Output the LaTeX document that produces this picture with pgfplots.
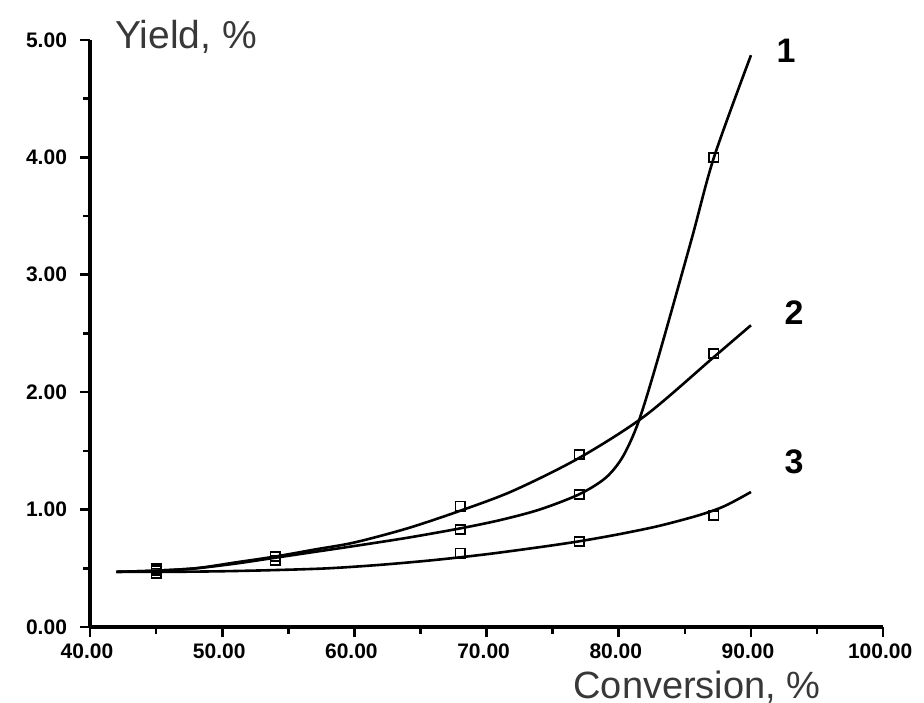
\documentclass[border=0pt]{standalone}
\usepackage{pgfplots}
\pgfplotsset{compat=1.18}
\usepackage{fontspec}
\setmainfont{Liberation Sans}
\begin{document}
\begin{tikzpicture}
\begin{axis}[
  scale only axis, width=396.5pt, height=293.5pt,
  xmin=40, xmax=100, ymin=0, ymax=5,
  axis lines*=left,
  axis line style={line width=1.8pt},
  xtick={40,50,60,70,80,90,100},
  xticklabels={40.00,50.00,60.00,70.00,80.00,90.00,100.00},
  ytick={0,1,2,3,4,5},
  yticklabels={0.00,1.00,2.00,3.00,4.00,5.00},
  minor x tick num=1, minor y tick num=1,
  tick align=outside,
  major tick length=5pt, minor tick length=3.5pt,
  every tick/.style={black, line width=1.3pt},
  ticklabel style={font=\bfseries\fontsize{10.5}{12}\selectfont},
  yticklabel style={xshift=-3pt},
  xticklabel style={xshift=-1.5pt},
  clip=false,
]
\addplot[black, line width=1.3pt, smooth, tension=0.5] coordinates {
 (42,0.47) (45,0.48) (48,0.5) (51,0.54) (54,0.59) (57,0.64) (60,0.69) (64,0.76)
 (68,0.84) (71,0.91) (74,1.0) (77,1.13) (79,1.27) (80.3,1.45)
 (81.5,1.75) (83,2.3) (85.5,3.3) (87.2,4.0) (90,4.87)};
\addplot[black, line width=1.3pt, smooth, tension=0.5] coordinates {
 (42,0.47) (45,0.48) (48,0.5) (51,0.55) (54,0.6) (57,0.66) (60,0.72) (64,0.84)
 (68,0.99) (72,1.16) (77,1.44) (82,1.8) (87.2,2.3) (90,2.57)};
\addplot[black, line width=1.3pt, smooth, tension=0.5] coordinates {
 (42,0.47) (46,0.47) (50,0.475) (54,0.485) (58,0.5) (62,0.53) (66,0.57) (70,0.62)
 (74,0.68) (77,0.73) (80,0.79) (83,0.86) (86,0.95) (88,1.03) (90,1.15)};
\addplot[only marks, mark=square, mark size=2.3pt, mark options={black, line width=0.9pt}] coordinates {
 (45,0.48) (54,0.6) (68,0.83) (77,1.13) (87.2,4.0)};
\addplot[only marks, mark=square, mark size=2.3pt, mark options={black, line width=0.9pt}] coordinates {
 (45,0.5) (54,0.6) (68,1.03) (77,1.47) (87.2,2.33)};
\addplot[only marks, mark=square, mark size=2.3pt, mark options={black, line width=0.9pt}] coordinates {
 (45,0.46) (54,0.57) (68,0.63) (77,0.73) (87.2,0.95)};
\node[anchor=base west, text=black!78, font=\fontsize{19.5}{22}\selectfont, inner sep=0pt] at (axis cs:41.89,4.93) {Yield, \%};
\node[anchor=base west, text=black!78, font=\fontsize{19}{22}\selectfont, inner sep=0pt] at (axis cs:76.54,-0.605) {Conversion, \%};
\node[font=\bfseries\fontsize{17}{20}\selectfont, inner sep=0pt] at (axis cs:92.66,4.91) {1};
\node[font=\bfseries\fontsize{17}{20}\selectfont, inner sep=0pt] at (axis cs:93.27,2.68) {2};
\node[font=\bfseries\fontsize{17}{20}\selectfont, inner sep=0pt] at (axis cs:93.27,1.41) {3};
\coordinate (bl) at (axis cs:33.19,-0.647);
\coordinate (tr) at (axis cs:103.09,5.34);
\end{axis}
\pgfresetboundingbox
\path[use as bounding box] (bl) rectangle (tr);
\end{tikzpicture}
\end{document}
